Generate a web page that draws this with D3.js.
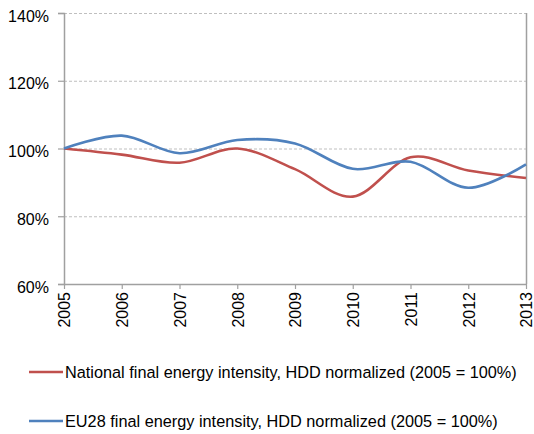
<!DOCTYPE html>
<html>
<head>
<meta charset="utf-8">
<script src="https://cdn.jsdelivr.net/npm/d3@7"></script>
<style>
  html, body { margin: 0; padding: 0; background: #fff; }
  svg { display: block; font-family: "Liberation Sans", Arial, sans-serif; }
</style>
</head>
<body>
<svg id="chart" width="534" height="434"></svg>
<script>
// Years on the category axis
const years = [2005, 2006, 2007, 2008, 2009, 2010, 2011, 2012, 2013];
// Final energy intensity, HDD normalized, index 2005 = 100%
const nationalValues = [100, 98.2, 95.8, 100, 93.9, 85.8, 97.4, 93.5, 91.3];
const eu28Values = [100, 103.8, 98.6, 102.5, 101.5, 94.0, 96.1, 88.4, 95.3];
// Value axis ticks (%)
const yTicks = [60, 80, 100, 120, 140];
const seriesNames = [
  "National final energy intensity, HDD normalized (2005 = 100%)",
  "EU28 final energy intensity, HDD normalized (2005 = 100%)"
];
const seriesColors = ["#C0504D", "#4F81BD"];

const svg = d3.select("#chart");
const plot = { left: 64, right: 526, top: 13, bottom: 284 };

const x = d3.scalePoint().domain(years).range([plot.left, plot.right]);
const y = d3.scaleLinear().domain([60, 140]).range([plot.bottom, plot.top]);

// Horizontal dashed gridlines
svg.append("g")
  .selectAll("line")
  .data(yTicks.filter(d => d > 60))
  .join("line")
  .attr("x1", plot.left).attr("x2", plot.right)
  .attr("y1", d => y(d) + 0.5).attr("y2", d => y(d) + 0.5)
  .attr("stroke", "#BFBFBF")
  .attr("stroke-width", 1)
  .attr("stroke-dasharray", "3,2");

// Right border of the plot area
svg.append("line")
  .attr("x1", plot.right + 0.5).attr("x2", plot.right + 0.5)
  .attr("y1", plot.top).attr("y2", plot.bottom)
  .attr("stroke", "#A0A0A0").attr("stroke-width", 1.5);

// Value axis
const yAxis = svg.append("g")
  .attr("transform", `translate(${plot.left},0)`)
  .call(d3.axisLeft(y).tickValues(yTicks).tickSize(6).tickPadding(9)
    .tickFormat(d => d + "%"));
yAxis.select(".domain").attr("stroke", "#A0A0A0").attr("stroke-width", 1.5);
yAxis.selectAll(".tick line").attr("stroke", "#A0A0A0").attr("stroke-width", 1.2);
yAxis.selectAll(".tick text")
  .attr("fill", "#000")
  .attr("font-size", 16)
  .attr("dy", "0.5em");

// Category axis with rotated year labels
const xAxis = svg.append("g")
  .attr("transform", `translate(0,${plot.bottom})`)
  .call(d3.axisBottom(x).tickSize(5).tickSizeOuter(0));
xAxis.select(".domain").attr("stroke", "#A0A0A0").attr("stroke-width", 1.5);
xAxis.selectAll(".tick line").attr("stroke", "#A0A0A0").attr("stroke-width", 1.2);
xAxis.selectAll(".tick text")
  .attr("fill", "#000")
  .attr("font-size", 16)
  .attr("transform", "rotate(-90)")
  .attr("text-anchor", "end")
  .attr("x", -8)
  .attr("y", 0)
  .attr("dy", "0.36em");

// Smoothed series lines
const line = d3.line()
  .x((d, i) => x(years[i]))
  .y(d => y(d))
  .curve(d3.curveCardinal.tension(0));

[nationalValues, eu28Values].forEach((vals, i) => {
  svg.append("path")
    .datum(vals)
    .attr("fill", "none")
    .attr("stroke", seriesColors[i])
    .attr("stroke-width", 2.6)
    .attr("stroke-linejoin", "round")
    .attr("d", line);
});

// Legend
const legendRows = [372, 421];
const legend = svg.append("g")
  .selectAll("g")
  .data(seriesNames)
  .join("g")
  .attr("transform", (d, i) => `translate(0,${legendRows[i]})`);
legend.append("line")
  .attr("x1", 29).attr("x2", 63)
  .attr("y1", 0).attr("y2", 0)
  .attr("stroke", (d, i) => seriesColors[i])
  .attr("stroke-width", 2.6);
legend.append("text")
  .attr("x", 65)
  .attr("y", 6)
  .attr("font-size", 16.3)
  .attr("fill", "#000")
  .text(d => d);
</script>
</body>
</html>
